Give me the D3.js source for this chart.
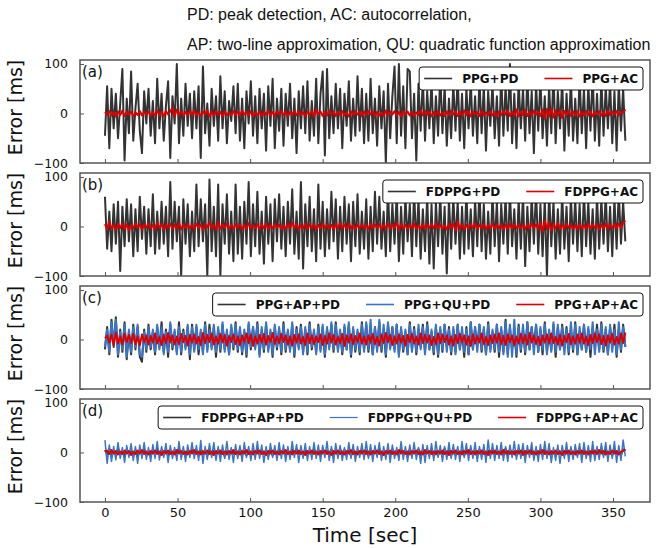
<!DOCTYPE html>
<html>
<head>
<meta charset="utf-8">
<script src="https://cdn.jsdelivr.net/npm/d3@7"></script>
<style>
  body { margin: 0; background: #fff; }
  svg { display: block; }
  text { font-family: "DejaVu Sans", sans-serif; }
</style>
</head>
<body>
<script>
// one value every 1.5 s
const T_STEP = 1.5;

const ppgPD = [
  -45, 55, -70, 50, -30, 40, -50, 20, 90, -95, 30, -40, 85, -55, 10, 60, -35, -80, 45, -20,
  50, -45, 25, -60, 70, -30, 40, -55, 15, 65, -90, 35, -20, 100, -60, 30, -45, 60, -25, 40,
  -50, 45, -30, 55, -90, 95, -40, 20, -65, 50, -25, 35, -55, 75, -30, 45, -60, 25, -15, 55,
  -40, 60, -55, 30, -70, 45, -20, 65, -45, 35, -60, 50, -30, 40, -75, 55, -25, 70, -70, 30,
  -35, 50, -65, 40, -25, 60, -50, 30, -80, 45, -30, 55, -40, 65, -55, 25, -45, 70, -60, 40,
  85, -85, 90, -50, 35, -40, 60, -30, 50, -70, 40, -25, 65, -55, 30, -45, 75, -35, 50, -60,
  40, -55, 70, -40, 30, -65, 55, -30, 45, -100, 60, -50, 35, 95, -60, 100, -45, 55, -70, 90,
  85, -50, 40, -95, 60, -35, 70, -55, 45, -30, 65, -60, 35, -45, 80, -40, 55, -65, 30, -50,
  60, -35, 75, -55, 40, -70, 50, -30, 65, -45, 35, -60, 70, -40, 55, -75, 45, -25, 60, -50,
  35, -65, 80, -45, 55, -35, 100, -60, 40, -70, 65, -30, 50, -55, 75, -40, 45, -80, 60, -35,
  70, -50, 35, -65, 55, -40, 80, -60, 45, -30, 65, -75, 40, -45, 70, -55, 30, -60, 75, -40,
  50, -70, 60, -35, 80, -55, 40, -65, 70, -45, 55, -30, 65, -60, 45, -75, 60, -35, 50, -55
];
const ppgAC = [
  3, -2, 5, -4, 2, -6, 4, -3, 6, -5, 3, -2, 4, -6, 2, -3, 5, -4, 3, -2,
  4, -5, 2, -3, 6, -4, 3, -6, 5, -2, 4, 12, -6, 8, -3, 4, -5, 3, -2, 5,
  -4, 6, -3, 2, -5, 4, -2, 7, -6, 3, -4, 5, -2, 3, -6, 4, -3, 2, -4, 5,
  -3, 4, -5, 6, -2, 3, -4, 5, -6, 2, -3, 4, -5, 3, -2, 6, -4, 3, -5, 4,
  -2, 5, -3, 4, -6, 3, -2, 5, -4, 6, -3, 2, -5, 4, -3, 5, -6, 8, -2, 4,
  -5, 3, -4, 6, -2, 4, -5, 3, -3, 5, -4, 2, -6, 4, -3, 5, -2, 3, -5, 4,
  -3, 5, -2, 4, -6, 3, -4, 2, -5, 6, -3, 4, -2, 5, -4, 3, -6, 5, -2, 4,
  -4, 3, -5, 2, -3, 6, -4, 5, -2, 4, -6, 3, -3, 5, -4, 2, -5, 4, -3, 6,
  -2, 4, -5, 3, -4, 6, -3, 5, -6, 4, -2, 3, -5, 6, -4, 2, -3, 5, -4, 3,
  -6, 4, -3, 5, -2, 6, -5, 3, -4, 8, -6, 4, -3, 7, -5, 3, -4, 6, -2, 4,
  -5, 8, -10, 9, -6, 10, -8, 6, -4, 7, -9, 5, -3, 6, -5, 4, -3, 5, -6, 3,
  -4, 5, -3, 4, -6, 3, -2, 5, -4, 3, -5, 6, -3, 4, -2, 5, -4, 3, 2, 8
];

const fdppgPD = [
  60, -45, 30, -50, 45, -35, 50, -90, 40, -40, 55, -30, 45, -60, 35, -50, 60, -25, 40, -55,
  35, -40, 65, -55, 30, -45, 50, -35, 40, -60, 90, -45, 50, -30, 40, -100, 55, -35, 45, -60,
  30, -50, 85, -40, 55, -30, 45, -100, 95, -50, 40, -60, 85, -100, 45, -35, 65, -55, 30, -70,
  85, -55, 40, -65, 50, -35, 90, -60, 45, -40, 70, -55, 30, -75, 60, -35, 45, -70, 55, -30,
  65, -45, 40, -60, 50, -35, 75, -55, 30, -65, 90, -85, 45, -40, 60, -50, 35, -70, 85, -45,
  50, -60, 35, -45, 70, -30, 55, -65, 40, -50, 60, -35, 45, -70, 50, -40, 65, -55, 30, -45,
  55, -65, 40, -50, 70, -35, 60, -45, 30, -60, 75, -50, 45, -35, 65, -70, 40, -55, 60, -30,
  45, -60, 70, -40, 55, -65, 35, -50, 60, -75, 45, -85, 50, -40, 65, -55, 40, -95, 55, -45,
  60, -35, 50, -65, 40, -55, 70, -45, 35, -60, 55, -40, 75, -50, 45, -65, 30, -55, 65, -40,
  50, -70, 45, -35, 60, -55, 70, -40, 35, -65, 55, -45, 65, -80, 40, -50, 60, -35, 75, -55,
  45, -60, 55, -100, 70, -40, 50, -65, 35, -55, 65, -45, 40, -70, 60, -35, 55, -50, 45, -60,
  70, -40, 50, -55, 35, -65, 60, -45, 55, -35, 65, -50, 40, -60, 55, -45, 70, -35, 50, -30
];
const fdppgAC = [
  5, -6, 10, -4, 3, -7, 5, -3, 6, -5, 4, -8, 3, -4, 6, -3, 5, -6, 4, -2,
  6, -4, 3, -6, 8, -3, 5, -7, 4, -2, 6, -5, 3, -4, 7, -6, 4, -3, 5, -4,
  3, -5, 6, -3, 4, -7, 5, -2, 8, -4, 3, -6, 10, -5, 4, -3, 6, -4, 3, -5,
  5, -3, 4, -6, 3, -5, 7, -4, 2, -3, 5, -6, 4, -3, 6, -5, 3, -4, 5, -2,
  4, -6, 3, -5, 6, -4, 8, -3, 5, -6, 3, -4, 6, -5, 4, -3, 5, -7, 3, -4,
  6, -3, 4, -5, 3, -6, 5, -4, 7, -3, 4, -5, 6, -4, 3, -6, 4, -3, 5, -4,
  3, -5, 6, -4, 4, -3, 5, -6, 3, -4, 6, -5, 4, -3, 8, -6, 5, -4, 3, -5,
  4, -3, 6, -5, 3, -4, 5, -6, 4, -3, 5, -4, 6, -3, 4, -5, 3, -6, 5, -4,
  6, -8, 10, -5, 4, -6, 3, -4, 5, -3, 6, -5, 4, -3, 5, -6, 3, -4, 6, -5,
  4, -3, 5, -6, 3, -4, 6, -5, 4, -3, 5, -4, 3, -6, 5, -4, 6, -3, 4, -5,
  8, -10, 12, -6, 9, -8, 5, -4, 7, -6, 4, -5, 6, -3, 4, -5, 3, -6, 5, -4,
  3, -5, 6, -4, 4, -3, 5, -6, 3, -4, 6, -5, 4, -3, 5, -4, 6, -3, 8, 12
];

const ppgApPD = [
  -20, 25, -30, 40, -15, 45, -35, 20, -25, 35, -40, 15, -30, 30, -20, 25, -35, -45, 20, -25,
  30, -20, 15, -30, 25, -15, 35, -25, 20, -35, 30, -20, 15, -25, 35, -30, 20, -15, 25, -40,
  30, -20, 25, -30, 15, -25, 35, -20, 30, -15, 25, -35, 20, -25, 30, -20, 15, -30, 25, -20,
  35, -25, 20, -30, 15, -35, 30, -20, 25, -15, 35, -30, 20, -25, 30, -20, 15, -35, 25, -20,
  20, -30, 35, -25, 15, -20, 30, -35, 25, -15, 30, -25, 20, -30, 35, -20, 15, -25, 30, -20,
  25, -35, 20, -15, 30, -25, 35, -20, 15, -30, 25, -20, 30, -35, 20, -25, 15, -30, 35, -20,
  30, -25, 15, -30, 25, -20, 35, -25, 20, -35, 30, -15, 25, -20, 30, -30, 20, -25, 15, -30,
  35, -20, 25, -30, 20, -15, 30, -25, 35, -20, 15, -30, 25, -35, 20, -25, 30, -15, 25, -30,
  20, -25, 30, -20, 15, -35, 25, -30, 35, -20, 25, -15, 30, -25, 20, -30, 35, -20, 15, -25,
  30, -35, 20, -25, 40, -30, 25, -20, 15, -35, 30, -25, 20, -30, 35, -20, 25, -15, 30, -25,
  20, -30, 35, -25, 15, -20, 30, -35, 25, -20, 30, -15, 25, -30, 20, -25, 35, -30, 15, -20,
  30, -25, 20, -35, 25, -15, 30, -20, 35, -25, 20, -30, 25, -15, 30, -35, 20, -25, 30, -15
];
const ppgQuPD = [
  -15, 20, -25, 35, -10, 40, -30, 15, -20, 30, -35, 20, -25, 25, -15, 30, -30, -35, 15, -20,
  25, -15, 20, -25, 30, -20, 25, -30, 15, -25, 35, -15, 20, -30, 25, -25, 15, -20, 30, -30,
  25, -25, 30, -20, 20, -30, 30, -25, 20, -20, 30, -25, 25, -20, 35, -25, 20, -30, 30, -15,
  30, -20, 25, -25, 20, -30, 35, -15, 25, -20, 30, -35, 25, -20, 35, -25, 20, -30, 30, -15,
  25, -25, 30, -20, 20, -25, 35, -30, 20, -20, 25, -30, 25, -25, 30, -15, 20, -30, 25, -25,
  30, -30, 25, -20, 35, -20, 30, -25, 20, -25, 30, -20, 35, -30, 25, -20, 20, -25, 30, -25,
  35, -20, 40, -30, 25, -25, 40, -20, 30, -30, 35, -20, 25, -25, 30, -35, 25, -20, 20, -30,
  30, -25, 20, -25, 30, -20, 25, -30, 30, -20, 20, -25, 30, -30, 25, -20, 30, -25, 20, -25,
  25, -30, 30, -20, 25, -25, 20, -30, 35, -20, 25, -25, 30, -20, 25, -30, 30, -25, 20, -20,
  30, -25, 25, -30, 35, -35, 30, -35, 40, -30, 25, -20, 30, -25, 35, -20, 25, -30, 30, -25,
  25, -20, 30, -30, 20, -25, 35, -25, 30, -20, 25, -30, 20, -25, 35, -20, 30, -30, 25, -20,
  30, -25, 25, -20, 35, -30, 20, -25, 30, -20, 25, -30, 30, -25, 20, -30, 35, -20, 25, -15
];
const ppgApAC = [
  2, 8, -6, 10, -12, 14, -8, 6, -10, 12, -5, 9, -7, 11, -9, 6, -12, 10, -5, 8,
  -10, 7, -6, 12, -8, 5, -11, 9, -7, 13, -6, 8, -10, 6, -9, 11, -5, 7, -12, 9,
  -6, 10, -8, 5, -11, 13, -7, 9, -5, 12, -10, 6, -8, 11, -6, 9, -12, 7, -5, 10,
  -9, 6, -11, 8, -5, 12, -7, 10, -13, 6, -8, 9, -6, 11, -10, 7, -5, 13, -9, 6,
  -7, 11, -5, 8, -10, 6, -12, 9, -6, 10, -8, 5, -11, 12, -7, 8, -9, 6, -5, 10,
  -11, 7, -8, 12, -6, 9, -10, 5, -7, 11, -13, 8, -6, 10, -9, 7, -5, 12, -8, 6,
  -10, 8, -6, 11, -9, 5, -12, 10, -7, 13, -5, 9, -11, 6, -8, 10, -6, 7, -12, 9,
  -5, 11, -8, 6, -10, 12, -7, 9, -6, 8, -11, 5, -9, 12, -7, 10, -5, 8, -10, 6,
  -12, 9, -7, 11, -5, 8, -10, 6, -13, 10, -8, 7, -6, 12, -9, 5, -11, 8, -7, 10,
  -6, 12, -9, 7, -11, 10, -5, 8, -12, 6, -8, 11, -7, 9, -10, 13, -6, 8, -9, 5,
  -11, 8, -6, 10, -8, 12, -7, 5, -10, 9, -12, 7, -5, 11, -9, 6, -8, 10, -6, 12,
  -8, 6, -11, 9, -7, 12, -5, 10, -9, 7, -12, 8, -6, 11, -10, 5, -8, 12, -7, 14
];

const fdppgApPD = [
  5, -4, 7, -6, 3, -5, 8, -3, 4, -7, 6, -4, 3, -6, 5, -8, 4, -3, 6, -5,
  3, -6, 5, -4, 7, -3, 4, -5, 6, -7, 3, -4, 5, -3, 8, -6, 4, -5, 3, -4,
  6, -3, 4, -7, 5, -4, 3, -6, 7, -5, 4, -3, 6, -4, 5, -8, 3, -5, 6, -3,
  4, -5, 7, -4, 3, -6, 5, -3, 4, -5, 8, -4, 6, -3, 5, -7, 4, -6, 3, -5,
  7, -4, 5, -6, 3, -5, 6, -4, 8, -3, 5, -6, 4, -5, 3, -4, 7, -5, 4, -6,
  5, -3, 4, -6, 6, -4, 3, -5, 7, -4, 5, -3, 4, -7, 6, -5, 3, -4, 5, -6,
  4, -7, 6, -3, 5, -5, 8, -4, 3, -6, 5, -4, 7, -3, 4, -5, 6, -4, 3, -5,
  6, -4, 3, -5, 7, -6, 4, -3, 5, -4, 6, -7, 3, -5, 4, -3, 8, -4, 5, -6,
  3, -5, 6, -4, 4, -6, 5, -3, 7, -5, 4, -4, 6, -3, 5, -7, 4, -5, 6, -3,
  5, -6, 4, -3, 8, -5, 6, -4, 3, -7, 5, -4, 6, -5, 4, -3, 7, -6, 5, -4,
  4, -3, 6, -5, 5, -4, 3, -6, 7, -3, 5, -5, 4, -6, 6, -4, 3, -5, 8, -3,
  6, -5, 4, -4, 5, -6, 7, -3, 4, -5, 6, -4, 3, -6, 5, -3, 4, -5, 6, 4
];
const fdppgQuPD = [
  25, -22, 15, -18, 12, -15, 20, -12, 10, -20, 14, -10, 18, -16, 12, -22, 15, -12, 20, -14,
  10, -18, 16, -12, 22, -15, 12, -10, 18, -20, 14, -12, 10, -16, 22, -14, 12, -18, 15, -10,
  20, -12, 14, -16, 24, -22, 12, -14, 18, -10, 20, -16, 12, -18, 15, -12, 22, -14, 10, -20,
  16, -12, 14, -18, 20, -10, 12, -16, 18, -14, 22, -12, 15, -20, 12, -14, 18, -10, 14, -16,
  20, -12, 15, -18, 12, -14, 22, -10, 16, -20, 14, -12, 18, -16, 12, -14, 20, -12, 15, -18,
  14, -10, 22, -16, 12, -20, 18, -12, 14, -16, 10, -14, 20, -12, 16, -18, 12, -10, 18, -14,
  22, -12, 16, -18, 14, -10, 20, -16, 12, -14, 18, -20, 15, -12, 10, -16, 22, -14, 12, -18,
  15, -12, 20, -14, 10, -22, 16, -20, 14, -12, 18, -16, 22, -10, 14, -18, 12, -14, 20, -12,
  16, -14, 12, -18, 22, -10, 18, -16, 14, -12, 20, -18, 12, -14, 16, -20, 25, -12, 18, -16,
  14, -12, 20, -16, 12, -18, 15, -10, 22, -14, 16, -12, 18, -20, 14, -10, 20, -16, 12, -18,
  16, -14, 22, -12, 18, -20, 10, -16, 15, -22, 14, -12, 20, -18, 12, -14, 16, -10, 18, -20,
  20, -12, 14, -18, 22, -16, 12, -14, 18, -10, 20, -18, 15, -12, 22, -20, 14, -16, 25, -8
];
const fdppgApAC = [
  2, 4, -3, 5, -2, 3, -4, 2, -3, 4, -2, 3, -5, 2, -3, 4, -2, 5, -3, 2,
  -4, 3, -2, 4, -3, 2, -5, 3, -2, 4, -3, 2, -4, 5, -2, 3, -3, 2, -4, 3,
  -2, 5, -3, 2, -4, 3, -2, 4, -3, 2, -5, 3, -2, 4, -3, 2, -4, 3, -2, 5,
  -3, 2, -4, 3, -2, 5, -3, 2, -4, 3, -2, 4, -3, 2, -5, 3, -2, 4, -3, 2,
  -4, 3, -2, 5, -3, 2, -4, 3, -2, 4, -3, 2, -5, 3, -2, 4, -3, 2, -4, 3,
  -2, 4, -3, 2, -5, 3, -2, 4, -3, 2, -4, 3, -2, 5, -3, 2, -4, 3, -2, 4,
  -3, 2, -4, 3, -2, 4, -3, 2, -5, 3, -2, 4, -3, 2, -4, 5, -2, 3, -3, 2,
  -4, 3, -2, 4, -3, 2, -4, 5, -2, 3, -3, 2, -4, 3, -2, 4, -3, 2, -5, 3,
  -2, 4, -3, 2, -4, 3, -2, 5, -3, 2, -4, 3, -2, 4, -3, 2, -5, 3, -2, 4,
  -3, 2, -4, 5, -2, 3, -3, 2, -4, 3, -2, 4, -5, 3, -2, 4, -3, 2, -4, 3,
  -2, 5, -3, 2, -4, 3, -2, 4, -3, 2, -5, 3, -2, 4, -3, 2, -4, 3, -2, 4,
  -3, 2, -4, 3, -2, 4, -3, 5, -2, 3, -4, 2, -3, 4, -2, 3, -4, 2, 3, 6
];

const panelLabels = ["(a)", "(b)", "(c)", "(d)"];
const xTicks = [0, 50, 100, 150, 200, 250, 300, 350];
const yTicks = [-100, 0, 100];
const titleLines = [
  "PD: peak detection, AC: autocorrelation,",
  "AP: two-line approximation, QU: quadratic function approximation"
];

const DARK = "#333333", RED = "#dd0000", BLUE = "#3874cc";

const panels = [
  { label: panelLabels[0], series: [
    { name: "PPG+PD", values: ppgPD, color: DARK, lw: 2, legendLw: 1.6 },
    { name: "PPG+AC", values: ppgAC, color: RED, lw: 2, legendLw: 1.6 } ] },
  { label: panelLabels[1], series: [
    { name: "FDPPG+PD", values: fdppgPD, color: DARK, lw: 2, legendLw: 1.6 },
    { name: "FDPPG+AC", values: fdppgAC, color: RED, lw: 2, legendLw: 1.6 } ] },
  { label: panelLabels[2], series: [
    { name: "PPG+AP+PD", values: ppgApPD, color: DARK, lw: 2, legendLw: 1.6 },
    { name: "PPG+QU+PD", values: ppgQuPD, color: BLUE, lw: 2, legendLw: 1.6 },
    { name: "PPG+AP+AC", values: ppgApAC, color: RED, lw: 2, legendLw: 1.6 } ] },
  { label: panelLabels[3], series: [
    { name: "FDPPG+AP+PD", values: fdppgApPD, color: DARK, lw: 2, legendLw: 1.6 },
    { name: "FDPPG+QU+PD", values: fdppgQuPD, color: BLUE, lw: 1.5, legendLw: 1.2 },
    { name: "FDPPG+AP+AC", values: fdppgApAC, color: RED, lw: 2, legendLw: 1.6 } ] }
];

const W = 664, H = 548;
const plotLeft = 80, plotRight = 650;
const panelTops = [60, 173, 286, 399], panelH = 103;
const SPINE = "#555";

const svg = d3.select("body").append("svg").attr("width", W).attr("height", H);

// header text
svg.append("g").selectAll("text").data(titleLines).join("text")
  .attr("x", 187).attr("y", (d, i) => 20 + i * 30)
  .style("font-family", "'Liberation Sans', Arial, sans-serif")
  .style("font-size", "16px").attr("fill", "#111")
  .text(d => d);

const x = d3.scaleLinear().domain([-17.2, 375.5]).range([plotLeft, plotRight]);

panels.forEach((p, k) => {
  const top = panelTops[k];
  const y = d3.scaleLinear().domain([-100, 108]).range([top + panelH, top]);
  const g = svg.append("g");

  g.append("clipPath").attr("id", "clip" + k)
    .append("rect").attr("x", plotLeft).attr("y", top)
      .attr("width", plotRight - plotLeft).attr("height", panelH);

  const line = d3.line().x((d, i) => x(i * T_STEP)).y(d => y(d));
  const plot = g.append("g").attr("clip-path", "url(#clip" + k + ")");
  p.series.forEach(s => {
    plot.append("path").datum(s.values)
      .attr("d", line).attr("fill", "none")
      .attr("stroke", s.color).attr("stroke-width", s.lw)
      .attr("stroke-linejoin", "round");
  });

  // axes
  const xAxis = d3.axisBottom(x).tickValues(xTicks).tickSizeInner(-4).tickSizeOuter(0).tickPadding(6);
  if (k < panels.length - 1) xAxis.tickFormat("");
  const gx = g.append("g").attr("transform", `translate(0,${top + panelH})`).call(xAxis);
  const yAxis = d3.axisLeft(y).tickValues(yTicks).tickSizeInner(-4).tickSizeOuter(0).tickPadding(12)
    .tickFormat(d => d < 0 ? "\u2212" + Math.abs(d) : d);
  const gy = g.append("g").attr("transform", `translate(${plotLeft},0)`).call(yAxis);
  [gx, gy].forEach(a => {
    a.select(".domain").remove();
    a.selectAll("line").attr("stroke", SPINE).attr("stroke-width", 1);
    a.selectAll("text").attr("fill", "#111").style("font-family", "'DejaVu Sans'");
  });
  gx.selectAll("text").style("font-size", "13px");
  gy.selectAll("text").style("font-size", "12.5px");

  g.append("rect").attr("x", plotLeft).attr("y", top)
    .attr("width", plotRight - plotLeft).attr("height", panelH)
    .attr("fill", "none").attr("stroke", SPINE).attr("stroke-width", 1.5);

  g.append("text").attr("x", 82).attr("y", top + 17)
    .style("font-size", "15px").attr("fill", "#111").text(p.label);

  g.append("text")
    .attr("transform", `translate(22,${top + panelH / 2 - 4}) rotate(-90)`)
    .attr("text-anchor", "middle").style("font-size", "19px").attr("fill", "#111")
    .text("Error [ms]");

  // legend, right aligned inside the panel
  const lg = g.append("g");
  const box = lg.append("rect");
  const items = lg.selectAll("g.item").data(p.series).join("g").attr("class", "item");
  items.append("text")
    .style("font-family", "'DejaVu Sans'").style("font-weight", "bold")
    .style("font-size", "12px").attr("fill", "#111").text(d => d.name);
  const widths = [];
  items.select("text").each(function() { widths.push(this.getComputedTextLength()); });
  const handle = 28, hGap = 10, iGap = 26, pad = 5;
  const total = pad * 2 + d3.sum(widths) + p.series.length * (handle + hGap) + (p.series.length - 1) * iGap;
  const bx = 643 - total, by = top + 7, bh = 23;
  box.attr("x", bx).attr("y", by).attr("width", total).attr("height", bh)
    .attr("rx", 3).attr("fill", "#fff").attr("stroke", "#111").attr("stroke-width", 1);
  let cx = bx + pad;
  items.each(function(d, i) {
    const it = d3.select(this);
    it.append("line").attr("x1", cx).attr("x2", cx + handle)
      .attr("y1", by + bh / 2).attr("y2", by + bh / 2)
      .attr("stroke", d.color).attr("stroke-width", d.legendLw);
    it.select("text").attr("x", cx + handle + hGap).attr("y", by + bh / 2 + 4.5);
    cx += handle + hGap + widths[i] + iGap;
  });
});

svg.append("text").attr("x", (plotLeft + plotRight) / 2).attr("y", 542)
  .attr("text-anchor", "middle").style("font-size", "20px").attr("fill", "#111")
  .text("Time [sec]");
</script>
</body>
</html>
